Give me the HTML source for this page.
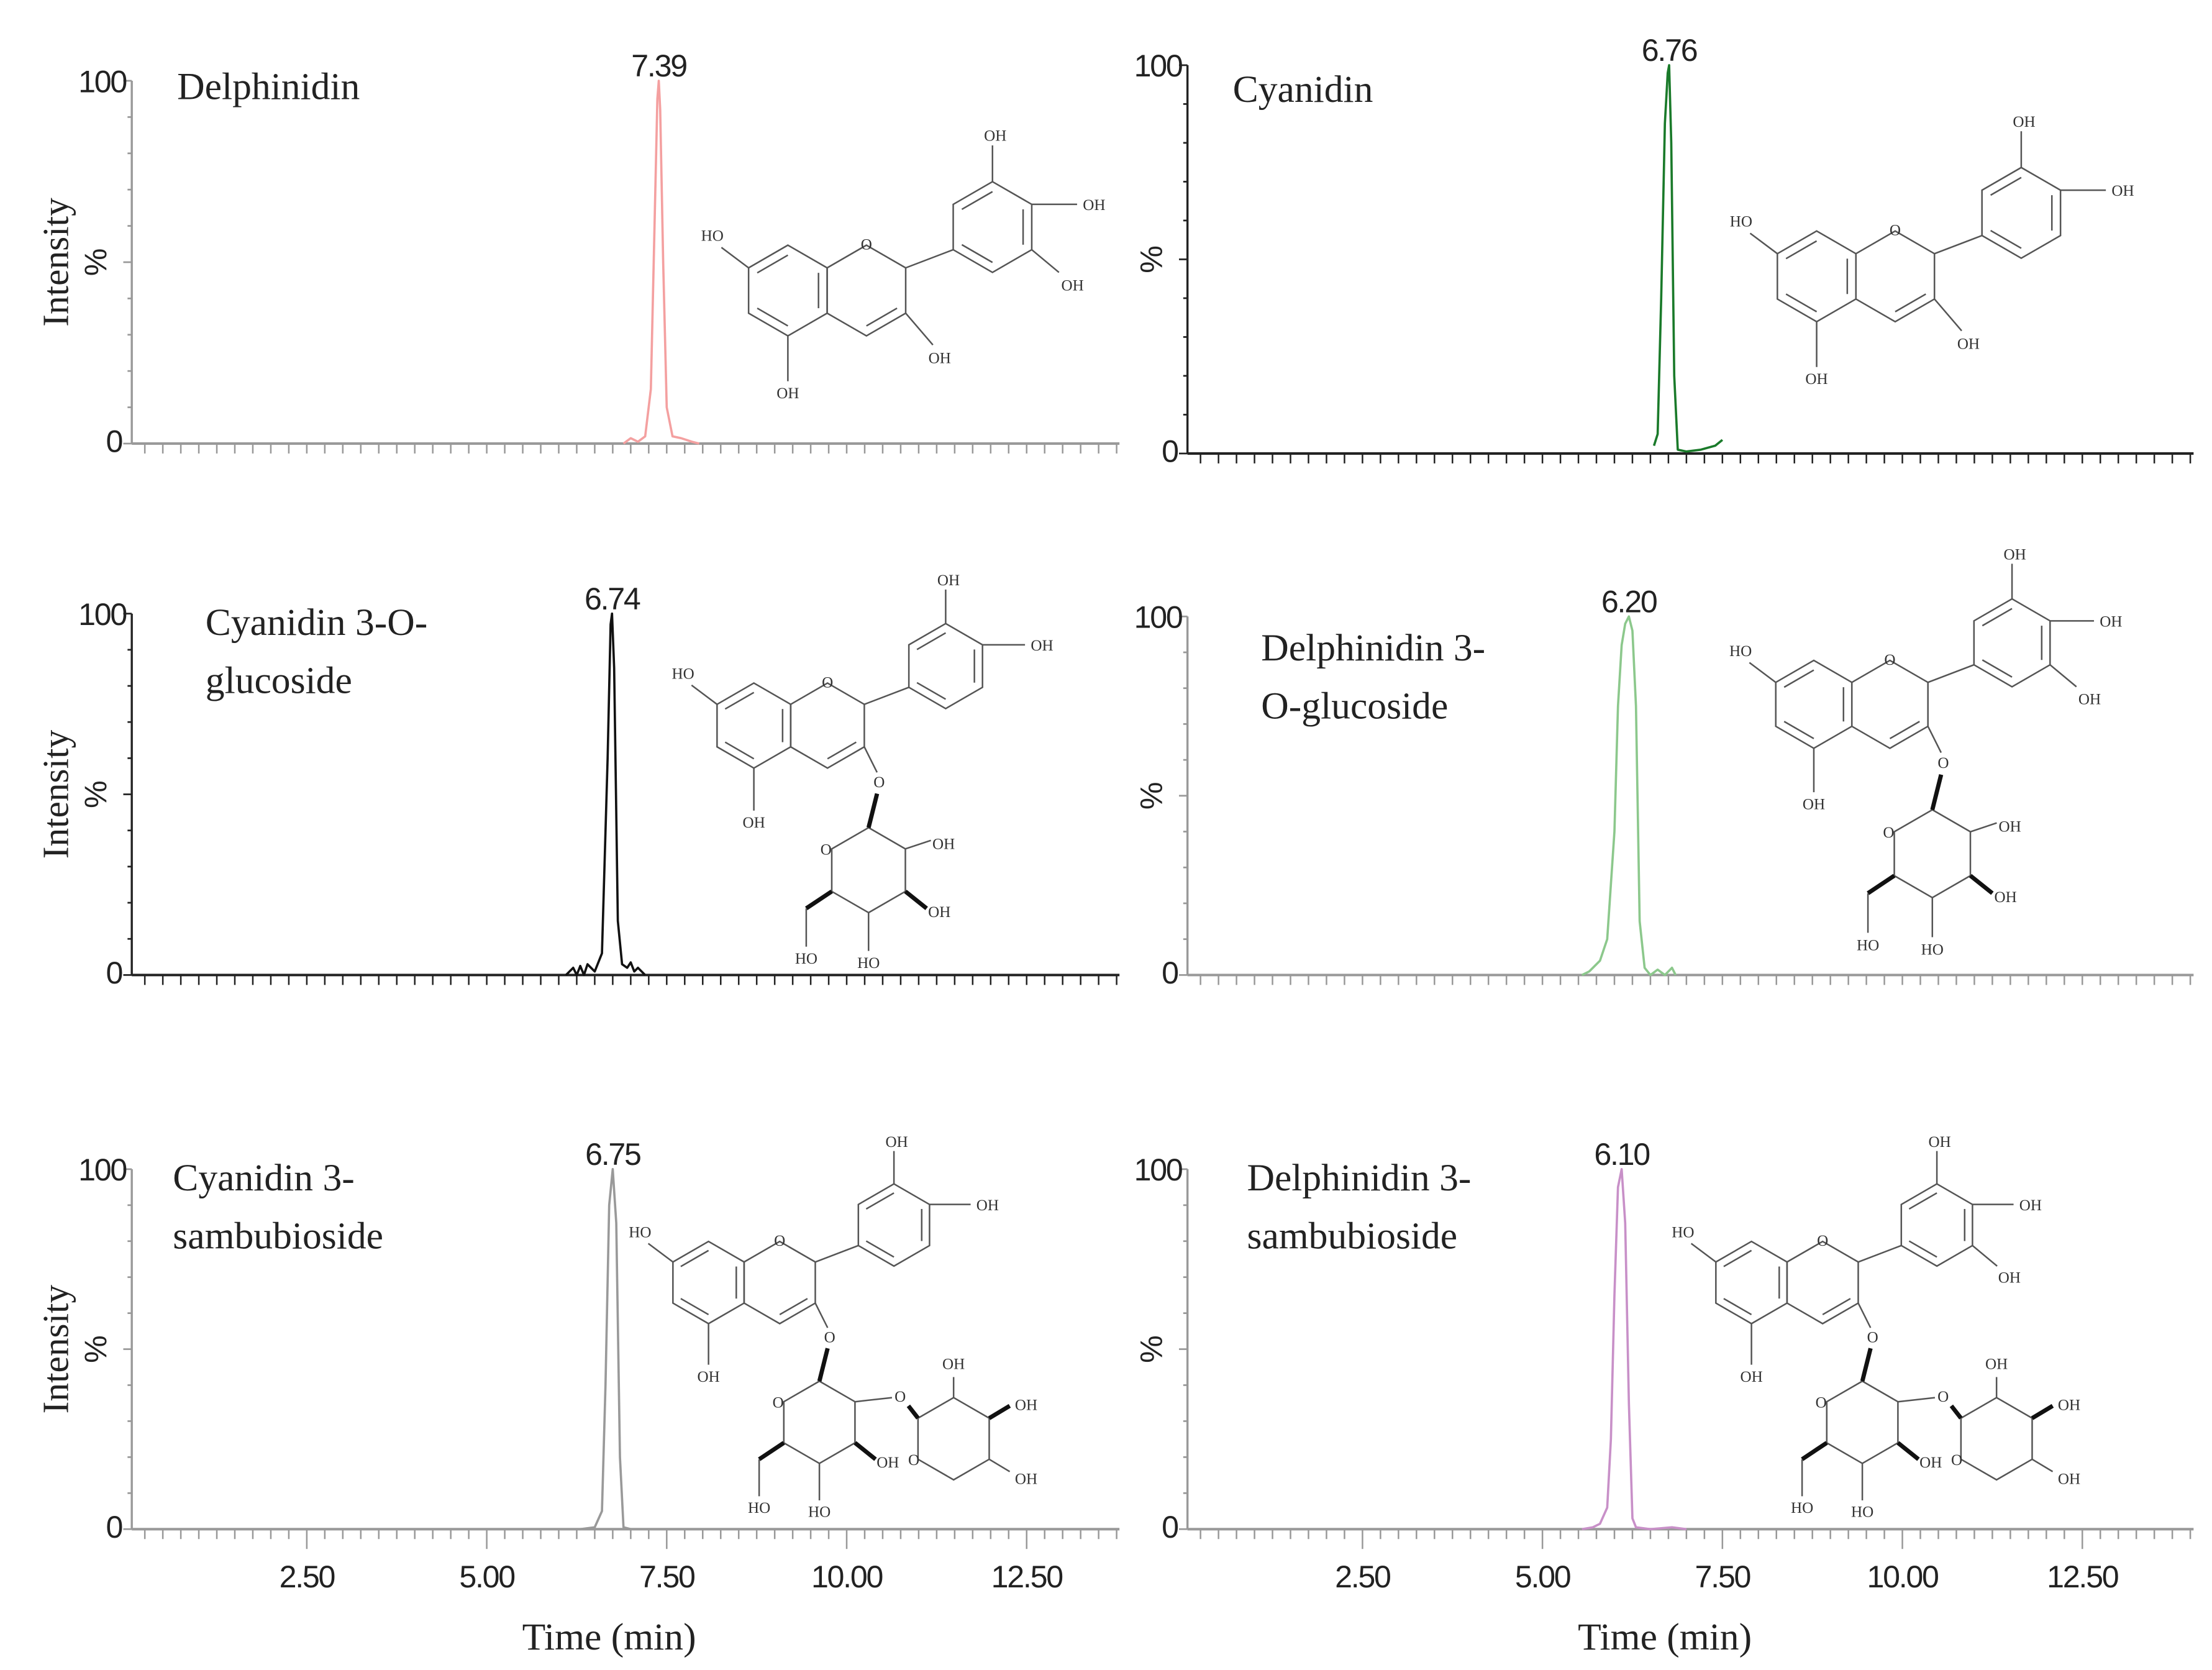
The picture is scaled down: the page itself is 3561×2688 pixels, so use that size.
<!DOCTYPE html>
<html><head><meta charset="utf-8">
<style>
html,body{margin:0;padding:0;background:#fff;}
svg{display:block;}
.tick{font-family:"Liberation Sans",sans-serif;}
.ser{font-family:"Liberation Serif",serif;}
</style></head>
<body>
<svg id="fig" xmlns="http://www.w3.org/2000/svg" width="3561" height="2688" viewBox="0 0 1561 1178.4" preserveAspectRatio="none"></svg>
<script>
// ---- data ----
const panelNames = ["Delphinidin","Cyanidin","Cyanidin 3-O-glucoside","Delphinidin 3-O-glucoside","Cyanidin 3-sambubioside","Delphinidin 3-sambubioside"];
const peakLabels = ["7.39","6.76","6.74","6.20","6.75","6.10"];
const trace0T = [6.9,7.0,7.1,7.2,7.28,7.33,7.37,7.39,7.41,7.45,7.5,7.58,7.7,7.85,7.95];
const trace0I = [0,1.5,0.5,2,15,60,95,100,92,50,10,2,1.5,0.5,0];
const trace1T = [6.55,6.6,6.65,6.7,6.74,6.76,6.79,6.83,6.88,7.0,7.2,7.4,7.5];
const trace1I = [2,5,40,85,98,100,80,20,1,0.5,1,2,3.5];
const trace2T = [6.1,6.2,6.25,6.3,6.35,6.4,6.5,6.6,6.68,6.72,6.74,6.77,6.82,6.88,6.95,7.0,7.05,7.1,7.2];
const trace2I = [0,2,0,2.5,0,3,1,6,60,97,100,85,15,3,2,3.5,1,2,0];
const trace3T = [5.55,5.65,5.8,5.9,6.0,6.05,6.1,6.15,6.2,6.25,6.3,6.35,6.42,6.5,6.6,6.7,6.8,6.85];
const trace3I = [0,1,4,10,40,75,92,98,100,96,75,15,2,0,1.5,0,2,0];
const trace4T = [5.95,6.3,6.5,6.6,6.65,6.7,6.75,6.8,6.85,6.9,7.0,7.5,7.95];
const trace4I = [0,0,0.5,5,40,90,100,85,20,0.5,0,0,0];
const trace5T = [5.55,5.7,5.8,5.9,5.95,6.0,6.05,6.1,6.15,6.2,6.25,6.3,6.5,6.8,7.0];
const trace5I = [0,0.5,1.5,6,25,65,95,100,85,35,3,0.5,0,0.5,0];
const traceT = [trace0T,trace1T,trace2T,trace3T,trace4T,trace5T];
const traceI = [trace0I,trace1I,trace2I,trace3I,trace4I,trace5I];
const xTickLabels = ["2.50","5.00","7.50","10.00","12.50"];
const xTickValues = [2.5,5,7.5,10,12.5];

// ---- layout (not data) ----
const panels = [
 {x0:93,y100:57,y0:313,xr:790,col:"#f4a0a0",ax:"#999",left:true,bottom:false,title:["Delphinidin"],tx:125,ty:70,mol:{cx:556,cy:205,r:32,b3:true,sug:0,HO:true}},
 {x0:838,y100:46,y0:320,xr:1548,col:"#1a7a2a",ax:"#222",left:false,bottom:false,title:["Cyanidin"],tx:870,ty:72,mol:{cx:1282,cy:195,r:32,b3:false,sug:0,HO:true}},
 {x0:93,y100:433,y0:688,xr:790,col:"#111",ax:"#222",left:true,bottom:false,title:["Cyanidin 3-O-","glucoside"],tx:145,ty:448,mol:{cx:532,cy:512,r:30,b3:false,sug:1,HO:true}},
 {x0:838,y100:435,y0:688,xr:1548,col:"#8cc88c",ax:"#999",left:false,bottom:false,title:["Delphinidin 3-","O-glucoside"],tx:890,ty:466,mol:{cx:1280,cy:497,r:31,b3:true,sug:1,HO:true}},
 {x0:93,y100:825,y0:1079,xr:790,col:"#999",ax:"#999",left:true,bottom:true,title:["Cyanidin 3-","sambubioside"],tx:122,ty:840,mol:{cx:500,cy:905,r:29,b3:false,sug:2,HO:true}},
 {x0:838,y100:825,y0:1079,xr:1548,col:"#c890c8",ax:"#999",left:false,bottom:true,title:["Delphinidin 3-","sambubioside"],tx:880,ty:840,mol:{cx:1236,cy:905,r:29,b3:true,sug:2,HO:true}}
];
const PXMIN = 50.8;
const TOFF = -3.5;
const NS="http://www.w3.org/2000/svg";
const svg=document.getElementById('fig');
function el(tag,attrs,parent,txt){const e=document.createElementNS(NS,tag);for(const k in attrs)e.setAttribute(k,attrs[k]);if(txt!==undefined)e.textContent=txt;(parent||svg).appendChild(e);return e;}

function hexPts(cx,cy,r){const p=[];for(let i=0;i<6;i++){const a=(-90+60*i)*Math.PI/180;p.push([cx+r*Math.cos(a),cy+r*Math.sin(a)]);}return p;}
function drawMol(g,m){
  const r=m.r, w=r*Math.sqrt(3);
  const A=hexPts(m.cx,m.cy,r), C=hexPts(m.cx+w,m.cy,r);
  const bcx=m.cx+w+2.78*r, bcy=m.cy-1.4*r, B=hexPts(bcx,bcy,r);
  const st={stroke:"#555","stroke-width":1.1,fill:"none"};
  [A,C,B].forEach(h=>el('polygon',Object.assign({points:h.map(p=>p.join(',')).join(' ')},st),g));
  function inner(h,c,i,j){const k=0.78;el('line',Object.assign({x1:c[0]+(h[i][0]-c[0])*k,y1:c[1]+(h[i][1]-c[1])*k,x2:c[0]+(h[j][0]-c[0])*k,y2:c[1]+(h[j][1]-c[1])*k},st),g);}
  inner(A,[m.cx,m.cy],0,5);inner(A,[m.cx,m.cy],3,4);inner(A,[m.cx,m.cy],1,2);
  inner(B,[bcx,bcy],0,5);inner(B,[bcx,bcy],1,2);inner(B,[bcx,bcy],3,4);
  inner(C,[m.cx+w,m.cy],2,3);
  const lab={"font-family":"Liberation Serif, serif","font-size":11,fill:"#333","text-anchor":"middle"};
  el('text',Object.assign({x:C[0][0],y:C[0][1]+3},lab),g,"O");
  el('line',Object.assign({x1:C[1][0],y1:C[1][1],x2:B[4][0],y2:B[4][1]},st),g);
  el('line',Object.assign({x1:A[5][0],y1:A[5][1],x2:A[5][0]-0.6*r,y2:A[5][1]-0.45*r},st),g);
  el('text',Object.assign({x:A[5][0]-0.8*r,y:A[5][1]-0.6*r},lab),g,"HO");
  el('line',Object.assign({x1:A[3][0],y1:A[3][1],x2:A[3][0],y2:A[3][1]+r},st),g);
  el('text',Object.assign({x:A[3][0],y:A[3][1]+r+12},lab),g,"OH");
  el('line',Object.assign({x1:B[0][0],y1:B[0][1],x2:B[0][0],y2:B[0][1]-0.8*r},st),g);
  el('text',Object.assign({x:B[0][0]+2,y:B[0][1]-0.9*r},lab),g,"OH");
  el('line',Object.assign({x1:B[1][0],y1:B[1][1],x2:B[1][0]+r,y2:B[1][1]},st),g);
  el('text',Object.assign({x:B[1][0]+r+12,y:B[1][1]+4},lab),g,"OH");
  if(m.b3){el('line',Object.assign({x1:B[2][0],y1:B[2][1],x2:B[2][0]+0.6*r,y2:B[2][1]+0.5*r},st),g);
    el('text',Object.assign({x:B[2][0]+0.9*r,y:B[2][1]+0.9*r},lab),g,"OH");}
  const c3=C[2];
  if(m.sug===0){el('line',Object.assign({x1:c3[0],y1:c3[1],x2:c3[0]+0.6*r,y2:c3[1]+0.7*r},st),g);
    el('text',Object.assign({x:c3[0]+0.75*r,y:c3[1]+1.1*r},lab),g,"OH");}
  else{
    el('line',Object.assign({x1:c3[0],y1:c3[1],x2:c3[0]+0.3*r,y2:c3[1]+0.6*r},st),g);
    el('text',Object.assign({x:c3[0]+0.35*r,y:c3[1]+0.95*r},lab),g,"O");
    const scx=c3[0]+0.1*r, scy=c3[1]+2.9*r;
    const S=hexPts(scx,scy,r);
    el('polygon',Object.assign({points:S.map(p=>p.join(',')).join(' ')},st),g);
    el('line',{x1:c3[0]+0.3*r,y1:c3[1]+1.1*r,x2:S[0][0],y2:S[0][1],stroke:"#111","stroke-width":3},g);
    el('text',Object.assign({x:S[5][0]-4,y:S[5][1]+4},lab),g,"O");
    el('line',{x1:S[2][0],y1:S[2][1],x2:S[2][0]+0.5*r,y2:S[2][1]+0.4*r,stroke:"#111","stroke-width":3},g);
    el('text',Object.assign({x:S[2][0]+0.8*r,y:S[2][1]+0.6*r},lab),g,"OH");
    el('line',Object.assign({x1:S[3][0],y1:S[3][1],x2:S[3][0],y2:S[3][1]+0.9*r},st),g);
    el('text',Object.assign({x:S[3][0],y:S[3][1]+1.3*r},lab),g,"HO");
    el('line',{x1:S[4][0],y1:S[4][1],x2:S[4][0]-0.6*r,y2:S[4][1]+0.4*r,stroke:"#111","stroke-width":3},g);
    el('line',Object.assign({x1:S[4][0]-0.6*r,y1:S[4][1]+0.4*r,x2:S[4][0]-0.6*r,y2:S[4][1]+1.3*r},st),g);
    el('text',Object.assign({x:S[4][0]-0.6*r,y:S[4][1]+1.7*r},lab),g,"HO");
    if(m.sug===1){el('line',Object.assign({x1:S[1][0],y1:S[1][1],x2:S[1][0]+0.6*r,y2:S[1][1]-0.2*r},st),g);
      el('text',Object.assign({x:S[1][0]+0.9*r,y:S[1][1]},lab),g,"OH");}
    else{
      el('line',Object.assign({x1:S[1][0],y1:S[1][1],x2:S[1][0]+0.9*r,y2:S[1][1]-0.1*r},st),g);
      el('text',Object.assign({x:S[1][0]+1.1*r,y:S[1][1]},lab),g,"O");
      const T=hexPts(S[1][0]+2.4*r,S[1][1]+0.9*r,r);
      el('polygon',Object.assign({points:T.map(p=>p.join(',')).join(' ')},st),g);
      el('line',{x1:S[1][0]+1.3*r,y1:S[1][1]+0.1*r,x2:T[5][0],y2:T[5][1],stroke:"#111","stroke-width":3},g);
      el('line',Object.assign({x1:T[0][0],y1:T[0][1],x2:T[0][0],y2:T[0][1]-0.5*r},st),g);
      el('text',Object.assign({x:T[0][0],y:T[0][1]-0.7*r},lab),g,"OH");
      el('line',{x1:T[1][0],y1:T[1][1],x2:T[1][0]+0.5*r,y2:T[1][1]-0.3*r,stroke:"#111","stroke-width":3},g);
      el('text',Object.assign({x:T[1][0]+0.9*r,y:T[1][1]-0.2*r},lab),g,"OH");
      el('line',Object.assign({x1:T[2][0],y1:T[2][1],x2:T[2][0]+0.5*r,y2:T[2][1]+0.3*r},st),g);
      el('text',Object.assign({x:T[2][0]+0.9*r,y:T[2][1]+0.6*r},lab),g,"OH");
      el('text',Object.assign({x:T[4][0]-3,y:T[4][1]+4},lab),g,"O");
    }
  }
}

panels.forEach((P,i)=>{
  const g=el('g',{});
  
  
  const xs=t=>P.x0+TOFF+t*PXMIN, ys=v=>P.y0-(P.y0-P.y100)*v/100;
  const ya=el('line',{x1:P.x0,y1:P.y100,x2:P.x0,y2:P.y0,stroke:P.ax,"stroke-width":1.5},g);
  
  for(let v=0;v<=100;v+=10){el('line',{x1:P.x0-(v%50===0?6:3),y1:ys(v),x2:P.x0,y2:ys(v),stroke:P.ax,"stroke-width":1.2},g);}
  const xa=el('line',{x1:P.x0,y1:P.y0,x2:P.xr,y2:P.y0,stroke:P.ax,"stroke-width":1.8},g);
  
  for(let t=0.25;xs(t)<=P.xr+0.5;t+=0.25){const maj=Math.abs(t/2.5-Math.round(t/2.5))<1e-6;
    el('line',{x1:xs(t),y1:P.y0,x2:xs(t),y2:P.y0+(P.bottom&&maj?14:7),stroke:P.ax,"stroke-width":1.1},g);}
  const l100=el('text',{x:P.x0-4,y:P.y100+8,"font-size":22,fill:"#222","text-anchor":"end",class:"tick","letter-spacing":"-1"},g,"100");
  
  const l0=el('text',{x:P.x0-6,y:P.y0+6,"font-size":22,fill:"#222","text-anchor":"end",class:"tick"},g,"0");
  
  const pc=el('text',{x:0,y:0,"font-size":22,fill:"#222","text-anchor":"middle",class:"tick",transform:`translate(${P.x0-18},${ys(50)}) rotate(-90)`},g,"%");
  
  if(P.left){const it=el('text',{x:0,y:0,"font-size":26,fill:"#222","text-anchor":"middle",class:"ser",transform:`translate(${P.x0-45},${ys(50)}) rotate(-90)`},g,"Intensity");
    }
  if(P.bottom){
    xTickValues.forEach((v,k)=>{const t=el('text',{x:xs(v),y:P.y0+41,"font-size":22,fill:"#222","text-anchor":"middle",class:"tick","letter-spacing":"-1"},g,xTickLabels[k]);
      });
    const xt=el('text',{x:xs(6.7),y:P.y0+85,"font-size":27,fill:"#222","text-anchor":"middle",class:"ser"},g,"Time (min)");
    
  }
  P.title.forEach((s,k)=>{const t=el('text',{x:P.tx,y:P.ty+k*41,"font-size":27,fill:"#222",class:"ser"},g,s);
    });
  const T=traceT[i], I=traceI[i];
  const d=T.map((t,k)=>(k?'L':'M')+xs(t).toFixed(1)+','+ys(I[k]).toFixed(1)).join(' ');
  const tr=el('path',{d:d,fill:"none",stroke:P.col,"stroke-width":1.6,"stroke-linejoin":"round"},g);
  
  let mi=0;I.forEach((v,k)=>{if(v>I[mi])mi=k;});
  const pl=el('text',{x:xs(T[mi]),y:P.y100-3,"font-size":22,fill:"#222","text-anchor":"middle",class:"tick","letter-spacing":"-1"},g,peakLabels[i]);
  
  const mg=el('g',{},g);
  
  
  drawMol(mg,P.mol);
});
</script>
</body></html>
